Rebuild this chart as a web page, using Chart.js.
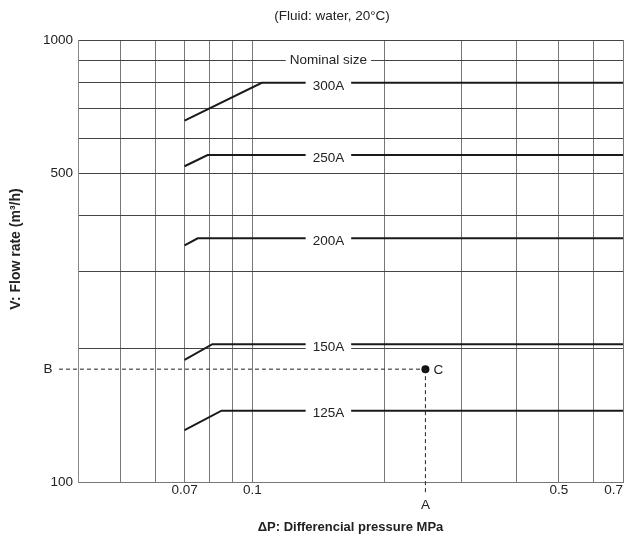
<!DOCTYPE html>
<html>
<head>
<meta charset="utf-8">
<script src="https://cdn.jsdelivr.net/npm/chart.js@4.4.1/dist/chart.umd.min.js"></script>
<style>
    html, body { margin: 0; padding: 0; background: #fff; }
    #wrap { width: 627px; height: 542px; }
</style>
</head>
<body>
<div id="wrap"><canvas id="flowChart" width="627" height="542"></canvas></div>
<script>
// Curves per nominal size: [differential pressure MPa, flow rate m3/h]
var sizes = ['125A', '150A', '200A', '250A', '300A'];
var curve125 = [[0.07, 131], [0.085, 145], [0.7, 145]];
var curve150 = [[0.07, 189], [0.081, 205], [0.7, 205]];
var curve200 = [[0.07, 343], [0.075, 356], [0.7, 356]];
var curve250 = [[0.07, 518], [0.079, 549], [0.7, 549]];
var curve300 = [[0.07, 657], [0.105, 800], [0.7, 800]];

// Reading example: A (pressure) -> C -> B (flow)
var pointA = 0.248;
var pointB = 180;
var guideH = [[0.0362, pointB], [pointA, pointB]];
var guideV = [[pointA, pointB], [pointA, 94]];

// Grid and tick labels
var xGrid = [0.04, 0.05, 0.06, 0.07, 0.08, 0.09, 0.1, 0.2, 0.3, 0.4, 0.5, 0.6, 0.7];
var xLabels = [0.07, 0.1, 0.5, 0.7];
var yGrid = [100, 200, 300, 400, 500, 600, 700, 800, 900, 1000];
var yLabels = [100, 500, 1000];
var labelX = 0.149;   // where the size names sit on the curves
var headerY = 900;    // "Nominal size" heading

var FAM = '"Liberation Sans", Arial, Helvetica, sans-serif';
var INK = '#222';

function toXY(arr) {
    return arr.map(function (p) { return { x: p[0], y: p[1] }; });
}

var curves = [curve125, curve150, curve200, curve250, curve300];
var datasets = curves.map(function (c, i) {
    return {
        label: sizes[i],
        data: toXY(c),
        showLine: true,
        borderColor: '#1a1a1a',
        borderWidth: 2,
        pointRadius: 0,
        tension: 0
    };
});
datasets.push({
    label: 'guideH', data: toXY(guideH), showLine: true, clip: false,
    borderColor: '#222', borderWidth: 1, borderDash: [4, 3], pointRadius: 0
});
datasets.push({
    label: 'guideV', data: toXY(guideV), showLine: true, clip: false,
    borderColor: '#222', borderWidth: 1, borderDash: [4, 3], pointRadius: 0
});
datasets.push({
    label: 'C', data: [{ x: pointA, y: pointB }], showLine: false,
    pointRadius: 4, pointBackgroundColor: '#111', pointBorderColor: '#111', borderWidth: 0
});

var labelPlugin = {
    id: 'sizeLabels',
    afterDatasetsDraw: function (chart) {
        var ctx = chart.ctx;
        var xs = chart.scales.x, ys = chart.scales.y;
        ctx.save();
        ctx.font = '13.5px ' + FAM;
        ctx.textAlign = 'center';
        ctx.textBaseline = 'middle';

        var px = xs.getPixelForValue(labelX);

        // heading sits on a grid line
        var hy = ys.getPixelForValue(headerY);
        var hw = ctx.measureText('Nominal size').width + 8;
        ctx.fillStyle = '#fff';
        ctx.fillRect(px - hw / 2, hy - 7, hw, 14);
        ctx.fillStyle = INK;
        ctx.fillText('Nominal size', px, hy);

        curves.forEach(function (c, i) {
            var py = ys.getPixelForValue(c[c.length - 1][1]);
            var w = ctx.measureText(sizes[i]).width + 14;
            ctx.fillStyle = '#fff';
            ctx.fillRect(px - w / 2, py - 6, w, 14);
            ctx.fillStyle = INK;
            ctx.fillText(sizes[i], px, py + 3);
        });

        // A, B, C markers
        var ax = xs.getPixelForValue(pointA);
        var by = ys.getPixelForValue(pointB);
        ctx.fillText('A', ax, chart.chartArea.bottom + 23);
        ctx.fillText('B', 48, by);
        ctx.fillText('C', ax + 13, by + 1);

        // titles
        ctx.fillText('(Fluid: water, 20°C)', 332, 16);
        ctx.font = 'bold 14px ' + FAM;
        ctx.translate(16, 249);
        ctx.rotate(-Math.PI / 2);
        ctx.fillText('V: Flow rate (m³/h)', 0, 0);
        ctx.restore();
    }
};

Chart.defaults.font.family = FAM;
Chart.defaults.font.size = 13.5;
Chart.defaults.color = INK;

var ctx = document.getElementById('flowChart').getContext('2d');
new Chart(ctx, {
    type: 'scatter',
    data: { datasets: datasets },
    plugins: [labelPlugin],
    options: {
        responsive: false,
        animation: false,
        layout: { padding: { top: 40, right: 1, left: 0, bottom: 0 } },
        plugins: {
            legend: { display: false },
            tooltip: { enabled: false }
        },
        scales: {
            x: {
                type: 'logarithmic',
                min: 0.04,
                max: 0.7,
                afterBuildTicks: function (scale) {
                    scale.ticks = xGrid.map(function (v) { return { value: v }; });
                },
                afterFit: function (scale) { scale.height = 60; },
                ticks: {
                    autoSkip: false,
                    maxRotation: 0,
                    padding: 0,
                    align: 'inner',
                    callback: function (v) {
                        return xLabels.indexOf(v) >= 0 ? String(v) : '';
                    }
                },
                grid: { color: '#777', lineWidth: 1, drawTicks: false },
                border: { color: '#777' },
                title: {
                    display: true,
                    text: 'ΔP: Differencial pressure MPa',
                    font: { weight: 'bold', size: 13 },
                    padding: { top: 0, bottom: 7 }
                }
            },
            y: {
                type: 'logarithmic',
                min: 100,
                max: 1000,
                afterBuildTicks: function (scale) {
                    scale.ticks = yGrid.map(function (v) { return { value: v }; });
                },
                afterFit: function (scale) { scale.width = 78; },
                ticks: {
                    autoSkip: false,
                    padding: 5,
                    callback: function (v) {
                        return yLabels.indexOf(v) >= 0 ? String(v) : '';
                    }
                },
                grid: { color: '#444', lineWidth: 1, drawTicks: false },
                border: { color: '#888' }
            }
        }
    }
});
</script>
</body>
</html>
